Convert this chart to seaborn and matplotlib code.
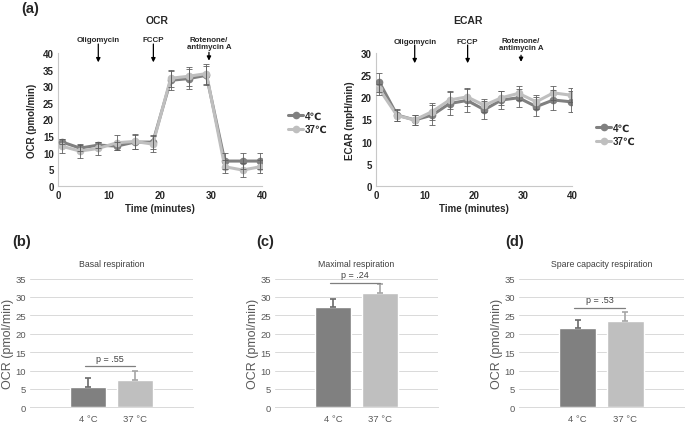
import numpy as np
import pandas as pd
import matplotlib
matplotlib.use("Agg")
import matplotlib.pyplot as plt
import seaborn as sns

# ---------------- data ----------------
time_min = [0.7, 4.3, 7.9, 11.5, 15.0, 18.6, 22.1, 25.6, 29.1, 32.7, 36.2, 39.7]

ocr_4 = [13.3, 11.4, 12.3, 12.0, 13.2, 13.2, 31.8, 32.3, 33.3, 7.5, 7.5, 7.5]
ocr_37 = [12.0, 10.5, 11.3, 13.0, 13.4, 12.6, 32.4, 33.0, 33.8, 5.8, 4.8, 5.8]
ocr_4_err = [0.8, 0.8, 0.8, 1.2, 2.0, 2.0, 2.8, 3.0, 2.8, 2.5, 2.5, 2.5]
ocr_37_err = [2.0, 2.0, 2.0, 2.2, 2.2, 2.5, 2.5, 2.8, 3.0, 2.0, 2.0, 2.0]

ecar_4 = [23.4, 16.0, 14.9, 16.0, 18.6, 19.3, 17.2, 19.4, 19.9, 17.9, 19.4, 19.0]
ecar_37 = [21.8, 15.9, 14.9, 16.8, 19.4, 20.1, 18.2, 19.9, 20.9, 19.0, 21.0, 20.5]
ecar_4_err = [2.2, 1.3, 1.2, 2.2, 2.6, 2.6, 2.0, 2.0, 2.0, 2.2, 2.2, 2.4]
ecar_37_err = [1.2, 1.2, 1.2, 2.0, 2.0, 2.0, 1.4, 1.6, 1.6, 1.6, 1.6, 1.6]

injections = ["Oligomycin", "FCCP", "Rotenone/\nantimycin A"]
injection_time = [7.9, 18.7, 29.6]

series_labels = ["4\u2103", "37\u2103"]
bar_categories = ["4 \u00b0C", "37 \u00b0C"]

basal = [5.6, 7.5]
basal_err = [2.4, 2.3]
maximal = [27.3, 31.1]
maximal_err = [2.2, 2.5]
spare = [21.5, 23.45]
spare_err = [2.1, 2.45]
p_values = ["p = .55", "p = .24", "p = .53"]
p_line_y = [11.25, 33.8, 27.1]
p_text_y = [13.3, 36.1, 29.3]

# ---------------- style ----------------
sns.set_style("white")
plt.rcParams["font.family"] = ["Liberation Sans", "DejaVu Sans"]

dark = "#808080"
light = "#bfbfbf"
err_col = "#5f5f5f"
txt_gray = "#595959"

W, H = 685, 427
fig = plt.figure(figsize=(W / 100, H / 100), dpi=100)


def ax_px(left, top, right, bottom):
    return fig.add_axes([left / W, 1 - bottom / H, (right - left) / W, (bottom - top) / H])


def fx(x):
    return x / W


def fy(y):
    return 1 - y / H


# ---------------- line panels ----------------
def line_panel(ax, y4, y37, e4, e37, ymax, ylabel, arrow_specs):
    df = pd.DataFrame({
        "time": time_min * 2,
        "value": y4 + y37,
        "group": [series_labels[0]] * len(time_min) + [series_labels[1]] * len(time_min),
    })
    sns.lineplot(data=df, x="time", y="value", hue="group",
                 palette=[dark, light], hue_order=series_labels,
                 marker="o", markersize=5.5, markeredgewidth=0, linewidth=2.2,
                 ax=ax, legend=False, zorder=3)
    for y, e in ((y4, e4), (y37, e37)):
        ax.errorbar(time_min, y, yerr=e, fmt="none", ecolor=err_col,
                    elinewidth=0.6, capsize=2, capthick=0.6, zorder=4)
    ax.set_xlim(0, 40)
    ax.set_ylim(0, ymax)
    ax.set_xticks([0, 10, 20, 30, 40])
    ax.set_yticks(np.arange(0, ymax + 1, 5))
    for s in ("top", "right"):
        ax.spines[s].set_visible(False)
    for s in ("left", "bottom"):
        ax.spines[s].set_color("#c8c8c8")
        ax.spines[s].set_linewidth(0.8)
    ax.tick_params(axis="both", length=0, labelsize=7, pad=3)
    for lab in ax.get_xticklabels() + ax.get_yticklabels():
        lab.set_fontweight("bold")
    ax.set_xlabel("Time (minutes)", fontsize=7, fontweight="bold", labelpad=2)
    ax.set_ylabel(ylabel, fontsize=7, fontweight="bold", labelpad=4)
    for (name, t), (tip, start, ty) in zip(zip(injections, injection_time), arrow_specs):
        ax.annotate("", xy=(t, tip), xytext=(t, start),
                    arrowprops=dict(arrowstyle="-|>", color="black", lw=0.9,
                                    mutation_scale=6, shrinkA=0, shrinkB=0),
                    annotation_clip=False)
        ax.text(t, ty, name, ha="center", va="center", fontsize=5.7,
                fontweight="bold", linespacing=1.05, clip_on=False)


ax_ocr = ax_px(58, 54, 262, 187)
line_panel(ax_ocr, ocr_4, ocr_37, ocr_4_err, ocr_37_err, 40, "OCR (pmol/min)",
           [(37.2, 42.7, 44.0), (37.2, 42.7, 44.0), (37.7, 40.2, 43.0)])
ax_ecar = ax_px(376, 54, 572, 187)
line_panel(ax_ecar, ecar_4, ecar_37, ecar_4_err, ecar_37_err, 30, "ECAR (mpH/min)",
           [(27.7, 31.8, 32.7), (27.7, 31.8, 32.7), (28.0, 29.5, 32.1)])

fig.text(fx(157), fy(21), "OCR", ha="center", va="center", fontsize=7.5, fontweight="bold")
fig.text(fx(468), fy(21), "ECAR", ha="center", va="center", fontsize=7.5, fontweight="bold")

for ax, (lx, ly) in ((ax_ocr, (283, 123.5)), (ax_ecar, (591, 135.5))):
    handles = ax.get_lines()[:2]
    leg = ax.legend(handles, series_labels, loc="center left",
                    bbox_to_anchor=(fx(lx), fy(ly)), bbox_transform=fig.transFigure,
                    frameon=False, fontsize=7, handlelength=1.6, handletextpad=0.1,
                    labelspacing=0.35, borderpad=0)
    for t in leg.get_texts():
        t.set_fontweight("bold")

# ---------------- bar panels ----------------
def bar_panel(ax, vals, errs, title, ptxt, py, pty):
    df = pd.DataFrame({"cond": bar_categories, "val": vals})
    sns.barplot(data=df, x="cond", y="val", hue="cond", palette=[dark, light],
                order=bar_categories, hue_order=bar_categories, width=0.78,
                legend=False, ax=ax, zorder=2, saturation=1)
    for i, (v, e, c) in enumerate(zip(vals, errs, ["#6a6a6a", "#a5a5a5"])):
        ax.errorbar([i], [v], yerr=[[0], [e]], fmt="none", ecolor=c,
                    elinewidth=1.2, capsize=2.2, capthick=1.2, zorder=3)
    ax.set_xlim(-1.23, 2.23)
    ax.set_ylim(0, 35)
    ax.set_yticks(np.arange(0, 36, 5))
    ax.yaxis.grid(True, color="#d9d9d9", linewidth=0.7, zorder=0)
    ax.set_axisbelow(True)
    for s in ("top", "right", "left"):
        ax.spines[s].set_visible(False)
    ax.spines["bottom"].set_color("#d9d9d9")
    ax.spines["bottom"].set_linewidth(0.7)
    ax.tick_params(axis="both", length=0, labelsize=6.8, colors=txt_gray, pad=5)
    ax.tick_params(axis="y", pad=3)
    ax.set_xlabel("")
    ax.set_ylabel("OCR (pmol/min)", fontsize=9, color=txt_gray, labelpad=1)
    ax.text(0.5, 1.12, title, transform=ax.transAxes, ha="center", va="center",
            fontsize=6.3, color="#404040")
    ax.plot([-0.07, 1.0], [py, py], color="#7f7f7f", lw=0.9, zorder=3, clip_on=False)
    ax.text(0.47, pty, ptxt, ha="center", va="center", fontsize=6.5,
            color="#404040", clip_on=False)


ax_b = ax_px(30, 279.5, 193, 408.3)
bar_panel(ax_b, basal, basal_err, "Basal respiration", p_values[0], p_line_y[0], p_text_y[0])
ax_c = ax_px(275, 279.5, 438, 408.3)
bar_panel(ax_c, maximal, maximal_err, "Maximal respiration", p_values[1], p_line_y[1], p_text_y[1])
ax_d = ax_px(519, 279.5, 684, 408.3)
bar_panel(ax_d, spare, spare_err, "Spare capacity respiration", p_values[2], p_line_y[2], p_text_y[2])

# panel labels
for lbl, x, y in (("(a)", 30, 9), ("(b)", 22, 242), ("(c)", 265, 242), ("(d)", 515, 242)):
    fig.text(fx(x), fy(y), lbl, ha="center", va="center", fontsize=10.5, fontweight="bold")

fig.savefig("out.png", dpi=100)
